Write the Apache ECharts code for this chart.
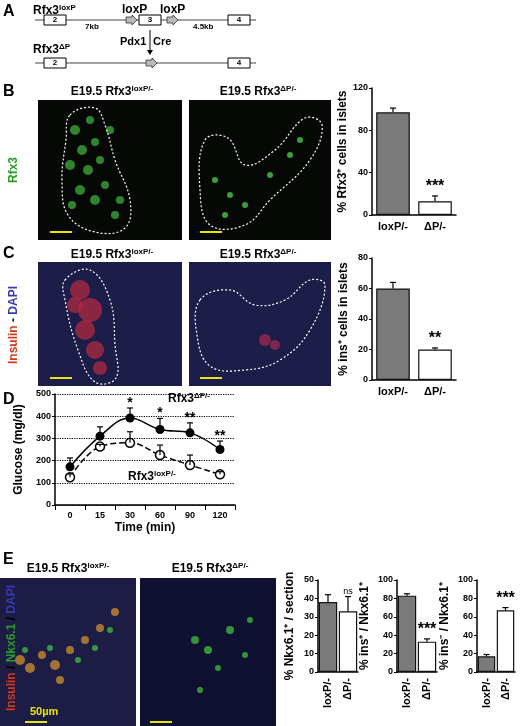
<!DOCTYPE html>
<html><head><meta charset="utf-8">
<script src="https://cdn.jsdelivr.net/npm/echarts@6/dist/echarts.min.js"></script>
<style>html,body{margin:0;background:#fff}#c{width:520px;height:726px}</style>
</head><body><div id="c"></div>
<script>
const groups = ['loxP/-', 'ΔP/-'];
const bVals = [97, 13], bErr = [4, 5], bSig = ['', '***'];
const cVals = [60, 20], cErr = [4, 1], cSig = ['', '**'];
const times = ['0', '15', '30', '60', '90', '120'];
const dDelta = [172, 310, 392, 340, 325, 250];
const dDeltaErr = [40, 42, 45, 50, 45, 38];
const dLox = [125, 263, 280, 225, 180, 138];
const dLoxErr = [15, 10, 50, 45, 45, 12];
const dSig = ['', '', '*', '*', '**', '**'];
const e1Vals = [38, 33], e1Err = [4, 8], e1Sig = ['', 'ns'];
const e2Vals = [83, 33], e2Err = [2, 3], e2Sig = ['', '***'];
const e3Vals = [17, 67], e3Err = [2, 3], e3Sig = ['', '***'];

const F = 'Liberation Sans, Arial, sans-serif';
const chart = echarts.init(document.getElementById('c'));

const grids = [
  {left: 372, top: 88, width: 84, height: 127},
  {left: 372, top: 258, width: 84, height: 122},
  {left: 55, top: 394, width: 180, height: 111},
  {left: 318, top: 580, width: 40, height: 92},
  {left: 397, top: 580, width: 40, height: 92},
  {left: 477, top: 580, width: 38, height: 92}
];
const axisLine = {lineStyle: {color: '#000', width: 1.5}};
const lbl = {color: '#000', fontFamily: F, fontWeight: 'bold', fontSize: 10};
function xCat(i, data, rot) {
  return {type: 'category', gridIndex: i, data: data, axisLine: axisLine,
    axisTick: {show: i === 2, lineStyle: {color: '#000'}},
    axisLabel: Object.assign({}, lbl, {fontSize: rot ? 11 : (i === 2 ? 9 : 11), rotate: rot ? 90 : 0, margin: 6, interval: 0})};
}
function yVal(i, max, interval, name, gap) {
  return {type: 'value', gridIndex: i, min: 0, max: max, interval: interval,
    axisLine: Object.assign({show: true}, axisLine), axisTick: {show: true, length: 3, lineStyle: {color: '#000'}},
    axisLabel: Object.assign({}, lbl, {fontSize: 9, margin: 4}),
    splitLine: {show: i === 2, lineStyle: {color: '#000', type: 'dotted', width: 1.2}},
    name: name, nameLocation: 'middle', nameRotate: 90, nameGap: gap,
    nameTextStyle: {color: '#000', fontFamily: F, fontWeight: 'bold', fontSize: 12}};
}
function bars(i, vals, w) {
  return {type: 'bar', xAxisIndex: i, yAxisIndex: i, barWidth: w || '80%', barGap: '0%',
    data: vals.map((v, k) => ({value: v, itemStyle: {color: k === 0 ? '#7a7a7a' : '#fff', borderColor: '#111', borderWidth: 1.2}}))};
}
function errs(i, vals, er, sig, opts) {
  opts = opts || {};
  return {type: 'custom', xAxisIndex: i, yAxisIndex: i, z: 5,
    data: vals.map((v, k) => [k, v, er[k]]),
    renderItem: function (p, api) {
      const x = api.value(0), v = api.value(1), e = api.value(2);
      const a = api.coord([x, v]), b = api.coord([x, v + e]);
      const w = opts.cap || 3;
      const ch = [
        {type: 'line', shape: {x1: a[0], y1: a[1], x2: b[0], y2: b[1]}, style: {stroke: '#000', lineWidth: 1.2}},
        {type: 'line', shape: {x1: b[0] - w, y1: b[1], x2: b[0] + w, y2: b[1]}, style: {stroke: '#000', lineWidth: 1.2}}
      ];
      const s = sig[p.dataIndex];
      if (s) ch.push({type: 'text', x: b[0], y: b[1] + (opts.sy || -1), style: {text: s, fill: '#000',
        font: (s === 'ns' ? 'normal 9px ' : 'bold ' + (opts.fs || 16) + 'px ') + F, align: 'center', verticalAlign: 'bottom'}});
      return {type: 'group', children: ch};
    }};
}

function img(x, y, w, h, fill) {
  return {type: 'rect', shape: {x: x, y: y, width: w, height: h}, style: {fill: fill}, z: 1};
}
function blobs(list, color) {
  return list.map(c => ({type: 'circle', shape: {cx: c[0], cy: c[1], r: c[2]}, style: {fill: color, opacity: 0.75}, z: 2}));
}
function outline(pts) {
  return {type: 'polygon', shape: {points: pts, smooth: 0.4}, style: {fill: 'none', stroke: '#fff', lineWidth: 1.2, lineDash: [2, 2]}, z: 3};
}
function scale(x, y) { return {type: 'line', shape: {x1: x, y1: y, x2: x + 22, y2: y}, style: {stroke: '#e6e600', lineWidth: 2}, z: 3}; }
function txt(x, y, t, size, opt) {
  return Object.assign({type: 'text', x: x, y: y, z: 10, style: Object.assign({text: t, font: 'bold ' + size + 'px ' + F, fill: '#000'}, opt || {})});
}
function richTitle(x, y, base, sup) {
  return {type: 'text', x: x, y: y, z: 10, style: {text: '{a|' + base + '}{s|' + sup + '}', align: 'center',
    rich: {a: {font: 'bold 12px ' + F, fill: '#000'}, s: {font: 'bold 8px ' + F, fill: '#000', verticalAlign: 'top', padding: [0, 0, 5, 0]}}}};
}
function box(x, y, label) {
  return [{type: 'rect', shape: {x: x, y: y - 5, width: 22, height: 10}, style: {fill: '#fff', stroke: '#000', lineWidth: 1}, z: 4},
    {type: 'text', x: x + 11, y: y, z: 5, style: {text: label, font: 'bold 8px ' + F, fill: '#000', align: 'center', verticalAlign: 'middle'}}];
}
function arrowShape(x, y) {
  return {type: 'polygon', shape: {points: [[x, y - 3], [x + 6, y - 3], [x + 6, y - 5], [x + 11, y], [x + 6, y + 5], [x + 6, y + 3], [x, y + 3]]},
    style: {fill: '#bbb', stroke: '#333', lineWidth: 0.8}, z: 4};
}
const supRich = {a: {font: 'bold 12px ' + F}, s: {font: 'bold 8px ' + F, verticalAlign: 'top', padding: [0, 0, 5, 0]}};

const g = [];
g.push(txt(3, 4, 'A', 16));
g.push(txt(33, 4, '{a|Rfx3}{s|loxP}', 12, {rich: supRich}));
g.push({type: 'line', shape: {x1: 35, y1: 20, x2: 256, y2: 20}, style: {stroke: '#444', lineWidth: 1}, z: 3});
g.push(...box(44, 20, '2'), ...box(139, 20, '3'), ...box(228, 20, '4'));
g.push(arrowShape(126, 20), arrowShape(167, 20));
g.push(txt(122, 4, 'loxP', 12), txt(160, 4, 'loxP', 12));
g.push(txt(85, 23, '7kb', 8), txt(193, 23, '4.5kb', 8));
g.push(txt(120, 36, 'Pdx1', 11), txt(153, 36, 'Cre', 11));
g.push({type: 'line', shape: {x1: 150, y1: 30, x2: 150, y2: 52}, style: {stroke: '#000', lineWidth: 1}, z: 3});
g.push({type: 'polygon', shape: {points: [[147, 50], [153, 50], [150, 55]]}, style: {fill: '#000'}, z: 3});
g.push(txt(33, 43, '{a|Rfx3}{s|ΔP}', 12, {rich: supRich}));
g.push({type: 'line', shape: {x1: 35, y1: 63, x2: 256, y2: 63}, style: {stroke: '#444', lineWidth: 1}, z: 3});
g.push(...box(44, 63, '2'), ...box(228, 63, '4'));
g.push(arrowShape(146, 63));

g.push(txt(3, 84, 'B', 16));
g.push(richTitle(112, 85, 'E19.5 Rfx3', 'loxP/-'), richTitle(258, 85, 'E19.5 Rfx3', 'ΔP/-'));
g.push(img(38, 100, 144, 140, '#050805'), img(189, 100, 142, 140, '#050805'));
g.push(...blobs([[75,130,5],[82,150,5],[95,142,4],[70,165,5],[88,170,5],[100,160,4],[80,190,5],[95,200,5],[105,185,4],[115,215,4],[72,205,4],[110,130,4],[120,200,4],[90,120,4]], '#3fae3f'));
g.push(...blobs([[215,180,3],[230,195,3],[245,205,3],[270,175,3],[300,140,3],[225,215,3],[290,155,3]], '#4fd04f'));
g.push(outline([[70,115],[95,108],[105,125],[115,160],[130,200],[125,228],[95,232],[68,215],[62,180],[66,140]]));
g.push(outline([[205,140],[228,138],[245,165],[275,150],[305,118],[322,125],[310,160],[270,200],[245,225],[210,225],[200,190]]));
g.push(scale(50, 232), scale(200, 232));
g.push({type: 'text', x: 14, y: 170, rotation: Math.PI / 2, z: 10, style: {text: 'Rfx3', font: 'bold 12px ' + F, fill: '#2c9a2c', align: 'center', verticalAlign: 'middle'}});

g.push(txt(3, 246, 'C', 16));
g.push(richTitle(112, 248, 'E19.5 Rfx3', 'loxP/-'), richTitle(258, 248, 'E19.5 Rfx3', 'ΔP/-'));
g.push(img(38, 262, 144, 124, '#1d1d4a'), img(189, 262, 142, 124, '#1d1d4a'));
g.push(...blobs([[80,290,10],[90,310,12],[85,330,10],[95,350,9],[100,368,7],[75,305,8]], '#b02a40'));
g.push(...blobs([[265,340,6],[275,345,5]], '#a02a50'));
g.push(outline([[65,280],[90,270],[110,300],[115,345],[116,378],[95,382],[78,350],[65,300]]));
g.push(outline([[200,300],[230,290],[255,305],[285,300],[310,280],[325,285],[310,330],[280,360],[245,370],[210,366],[197,335]]));
g.push(scale(50, 378), scale(200, 378));
g.push({type: 'text', x: 14, y: 325, rotation: Math.PI / 2, z: 10, style: {text: '{r|Insulin} {k|-} {b|DAPI}', align: 'center', verticalAlign: 'middle',
  rich: {r: {font: 'bold 12px ' + F, fill: '#d03a1c'}, k: {font: 'bold 12px ' + F, fill: '#000'}, b: {font: 'bold 12px ' + F, fill: '#3a3ab0'}}}});

g.push(txt(3, 392, 'D', 16));
g.push(txt(168, 392, '{a|Rfx3}{s|ΔP/-}', 12, {rich: supRich}));
g.push(txt(128, 470, '{a|Rfx3}{s|loxP/-}', 12, {rich: supRich}));
g.push(txt(145, 522, 'Time (min)', 12, {align: 'center'}));

g.push(txt(3, 552, 'E', 16));
g.push(richTitle(68, 562, 'E19.5 Rfx3', 'loxP/-'), richTitle(210, 562, 'E19.5 Rfx3', 'ΔP/-'));
g.push(img(0, 578, 136, 148, '#1c1c45'), img(140, 578, 136, 148, '#101030'));
g.push(...blobs([[20,660,5],[30,668,5],[42,655,4],[55,665,5],[70,650,4],[85,640,4],[100,628,4],[115,612,4],[60,680,4]], '#d09030'));
g.push(...blobs([[25,650,3],[50,648,3],[78,660,3],[110,630,3],[95,648,3]], '#40c040'));
g.push(...blobs([[195,640,4],[208,650,4],[230,630,4],[250,620,3],[218,668,3],[245,655,3],[200,690,3]], '#40c040'));
g.push(txt(30, 706, '50µm', 11, {fill: '#e6e600'}));
g.push(scale(25, 722), scale(150, 722));
g.push({type: 'text', x: 12, y: 648, rotation: Math.PI / 2, z: 10, style: {text: '{r|Insulin} {k|/} {g|Nkx6.1} {k|/} {b|DAPI}', align: 'center', verticalAlign: 'middle',
  rich: {r: {font: 'bold 12px ' + F, fill: '#d03a1c'}, k: {font: 'bold 12px ' + F, fill: '#000'}, g: {font: 'bold 12px ' + F, fill: '#2c9a2c'}, b: {font: 'bold 12px ' + F, fill: '#3a3ab0'}}}});

chart.setOption({
  animation: false,
  grid: grids,
  xAxis: [xCat(0, groups), xCat(1, groups), xCat(2, times), xCat(3, groups, true), xCat(4, groups, true), xCat(5, groups, true)],
  yAxis: [
    yVal(0, 120, 40, '% Rfx3⁺ cells in islets', 22),
    yVal(1, 80, 20, '% ins⁺ cells in islets', 22),
    yVal(2, 500, 100, 'Glucose (mg/dl)', 30),
    yVal(3, 50, 10, '% Nkx6.1⁺ / section', 22),
    yVal(4, 100, 20, '% ins⁺ / Nkx6.1⁺', 26),
    yVal(5, 100, 20, '% ins⁻ / Nkx6.1⁺', 26)
  ],
  series: [
    bars(0, bVals), errs(0, bVals, bErr, bSig),
    bars(1, cVals), errs(1, cVals, cErr, cSig),
    {type: 'line', xAxisIndex: 2, yAxisIndex: 2, data: dDelta, smooth: 0.4, symbol: 'circle', symbolSize: 9,
      lineStyle: {color: '#000', width: 1.5}, itemStyle: {color: '#000'}, z: 4},
    {type: 'line', xAxisIndex: 2, yAxisIndex: 2, data: dLox, smooth: 0.4, symbol: 'circle', symbolSize: 9,
      lineStyle: {color: '#000', width: 1.5, type: 'dashed'}, itemStyle: {color: '#fff', borderColor: '#000', borderWidth: 1.5}, z: 4},
    errs(2, dDelta, dDeltaErr, dSig, {fs: 14, sy: 2}), errs(2, dLox, dLoxErr, ['', '', '', '', '', '']),
    bars(3, e1Vals, '92%'), errs(3, e1Vals, e1Err, e1Sig),
    bars(4, e2Vals, '92%'), errs(4, e2Vals, e2Err, e2Sig),
    bars(5, e3Vals, '92%'), errs(5, e3Vals, e3Err, e3Sig)
  ],
  graphic: g
});
</script></body></html>
